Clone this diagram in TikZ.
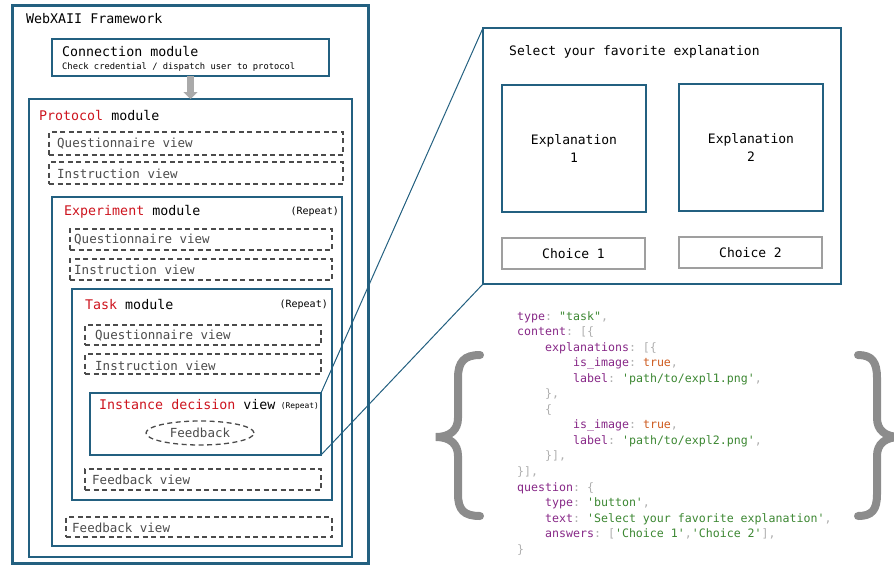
\documentclass[tikz,border=0pt]{standalone}
\usepackage{fontspec}
\setmonofont{DejaVu Sans Mono}
\usetikzlibrary{arrows.meta, positioning, shapes.geometric}

\definecolor{frame}{RGB}{35,96,128}
\definecolor{viewgray}{RGB}{75,75,75}
\definecolor{modred}{RGB}{205,20,30}
\definecolor{keycol}{RGB}{135,40,135}
\definecolor{strcol}{RGB}{60,135,50}
\definecolor{boolcol}{RGB}{205,90,30}
\definecolor{punct}{RGB}{175,175,175}
\definecolor{bracegray}{RGB}{140,140,140}
\definecolor{arrowgray}{RGB}{170,170,170}

% code colouring
\newcommand{\jkey}[1]{\textcolor{keycol}{#1}\textcolor{punct}{:}}
\newcommand{\jstr}[1]{\textcolor{strcol}{#1}}
\newcommand{\jp}[1]{\textcolor{punct}{#1}}
\newcommand{\jind}{\hspace*{28pt}}

\tikzset{
  modbox/.style={draw=frame, line width=1.5pt, inner sep=0, outer sep=0, anchor=north west},
  viewbox/.style={draw=viewgray, line width=1.3pt, dash pattern=on 5pt off 3.5pt, inner sep=0, outer sep=0, anchor=north west},
  choicebox/.style={draw=gray!75, line width=1.3pt, inner sep=0, outer sep=0, anchor=north west},
  title/.style={font=\ttfamily\fontsize{13.3}{16}\selectfont, inner sep=0, anchor=west},
  viewtext/.style={font=\ttfamily\fontsize{12.5}{15}\selectfont, text=viewgray, inner sep=0, anchor=west},
  repeat/.style={font=\ttfamily\fontsize{10}{12}\selectfont, inner sep=0, anchor=east},
  brace/.style={draw=bracegray, line width=8pt, line cap=round},
  zoomline/.style={draw=frame, line width=1pt},
}

\begin{document}
\begin{tikzpicture}[x=1pt, y=-1pt]
  \clip (0,0) rectangle (894,565);

  % Framework and connection
  \node[modbox, line width=3pt, minimum width=356pt, minimum height=558pt] (fw) at (12,5) {};
  \node[title] (fwt) at (26,19) {WebXAII Framework};
  \node[modbox, minimum width=277pt, minimum height=37pt] (conn) at (52,39) {};
  \node[title] (connt) at (62,52) {Connection module};
  \node[font=\ttfamily\fontsize{8.8}{10}\selectfont, inner sep=0, anchor=west] (conns) at (62,67) {Check credential / dispatch user to protocol};

  % Protocol module
  \node[modbox, minimum width=323pt, minimum height=458pt] (proto) at (29,99) {};
  \node[title] (protot) at (39,116) {\textcolor{modred}{Protocol} module};
  \node[viewbox, minimum width=294pt, minimum height=23pt] (pq) at (49,132) {};
  \node[viewtext] (pqt) at (57,144) {Questionnaire view};
  \node[viewbox, minimum width=294pt, minimum height=22pt] (pi) at (49,162) {};
  \node[viewtext] (pit) at (57,174) {Instruction view};

  % Experiment module
  \node[modbox, minimum width=290pt, minimum height=349pt] (exp) at (52,197) {};
  \node[title] (expt) at (64,212) {\textcolor{modred}{Experiment} module};
  \node[repeat] (expr) at (339,212) {(Repeat)};
  \node[viewbox, minimum width=262pt, minimum height=21pt] (eq) at (70,229) {};
  \node[viewtext] (eqt) at (74,240) {Questionnaire view};
  \node[viewbox, minimum width=262pt, minimum height=21pt] (ei) at (70,259) {};
  \node[viewtext] (eit) at (74,270) {Instruction view};
  \node[viewbox, minimum width=266pt, minimum height=20pt] (ef) at (66,517) {};
  \node[viewtext] (eft) at (72,528) {Feedback view};

  % Task module
  \node[modbox, minimum width=260pt, minimum height=211pt] (task) at (72,289) {};
  \node[title] (taskt) at (85,305) {\textcolor{modred}{Task} module};
  \node[repeat] (taskr) at (328,305) {(Repeat)};
  \node[viewbox, minimum width=236pt, minimum height=20pt] (tq) at (85,325) {};
  \node[viewtext] (tqt) at (95,336) {Questionnaire view};
  \node[viewbox, minimum width=236pt, minimum height=20pt] (ti) at (85,354) {};
  \node[viewtext] (tit) at (95,366) {Instruction view};
  \node[viewbox, minimum width=236pt, minimum height=21pt] (tf) at (85,469) {};
  \node[viewtext] (tft) at (92,480) {Feedback view};

  % Instance decision view
  \node[modbox, minimum width=231pt, minimum height=62pt] (inst) at (90,393) {};
  \node[title] (instt) at (99,405) {\textcolor{modred}{Instance decision} view};
  \node[repeat, font=\ttfamily\fontsize{7.9}{9}\selectfont] (instr) at (319,406) {(Repeat)};
  \node[ellipse, draw=viewgray, line width=1.3pt, dash pattern=on 5pt off 3.5pt, minimum width=108pt, minimum height=24pt, inner sep=0, font=\ttfamily\fontsize{12.5}{15}\selectfont, text=viewgray] (fb) at (200,433) {Feedback};

  \draw[-{Triangle[width=14pt,length=7pt]}, line width=7pt, arrowgray] (conn.south) -- (proto.north);

  % Interface mock-up
  \node[modbox, minimum width=358pt, minimum height=256pt] (panel) at (483,28) {};
  \node[title, font=\ttfamily\fontsize{13}{16}\selectfont] (sel) at (509,52) {Select your favorite explanation};
  \node[modbox, minimum width=144pt, minimum height=127pt, align=center, font=\ttfamily\fontsize{13}{18}\selectfont] (ex1) at (502,85) {Explanation\\1};
  \node[modbox, minimum width=144pt, minimum height=127pt, align=center, font=\ttfamily\fontsize{13}{18}\selectfont] (ex2) at (679,84) {Explanation\\2};
  \node[choicebox, minimum width=143pt, minimum height=31pt, font=\ttfamily\fontsize{13}{16}\selectfont] (ch1) at (502,238) {Choice 1};
  \node[choicebox, minimum width=143pt, minimum height=31pt, font=\ttfamily\fontsize{13}{16}\selectfont] (ch2) at (679,237) {Choice 2};

  \draw[zoomline] (inst.north east) -- (panel.north west);
  \draw[zoomline] (inst.south east) -- (panel.south west);

  % Task description
  \node[anchor=north west, inner sep=0, align=left, font=\ttfamily\fontsize{11.6}{15.55}\selectfont] (code) at (517,311) {%
    \jkey{type} \jstr{"task"}\jp{,}\\
    \jkey{content} \jp{[\{}\\
    \jind\jkey{explanations} \jp{[\{}\\
    \jind\jind\jkey{is\_image} \textcolor{boolcol}{true}\jp{,}\\
    \jind\jind\jkey{label} \jstr{'path/to/expl1.png'}\jp{,}\\
    \jind\jp{\},}\\
    \jind\jp{\{}\\
    \jind\jind\jkey{is\_image} \textcolor{boolcol}{true}\jp{,}\\
    \jind\jind\jkey{label} \jstr{'path/to/expl2.png'}\jp{,}\\
    \jind\jp{\}],}\\
    \jp{\}],}\\
    \jkey{question} \jp{\{}\\
    \jind\jkey{type} \jstr{'button'}\jp{,}\\
    \jind\jkey{text} \jstr{'Select your favorite explanation'}\jp{,}\\
    \jind\jkey{answers} \jp{[}\jstr{'Choice 1'}\jp{,}\jstr{'Choice 2'}\jp{],}\\
    \jp{\}}};

  \draw[brace] (480,355) .. controls (464,355) and (458,362) .. (458,378) -- (458,418)
    .. controls (458,430) and (450,437) .. (436,437) .. controls (450,437) and (458,444) .. (458,456)
    -- (458,494) .. controls (458,510) and (464,516) .. (480,516);
  \draw[brace] (858,355) .. controls (872,355) and (877,362) .. (877,378) -- (877,418)
    .. controls (877,430) and (885,437) .. (900,437) .. controls (885,437) and (877,444) .. (877,456)
    -- (877,494) .. controls (877,510) and (872,516) .. (858,516);
\end{tikzpicture}
\end{document}
